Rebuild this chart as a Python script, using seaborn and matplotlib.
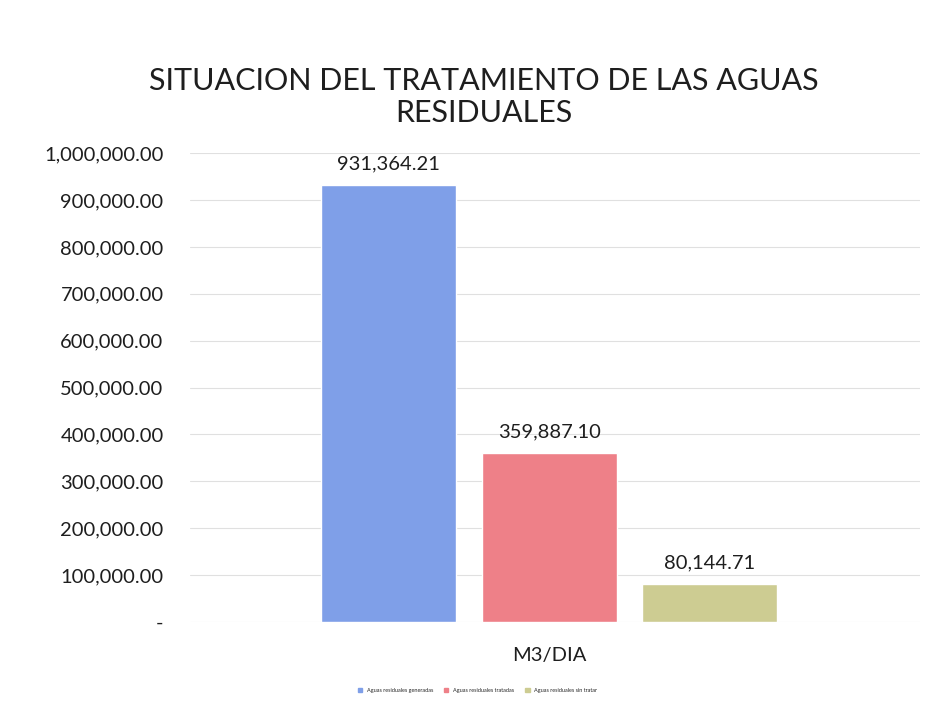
import pandas as pd
import matplotlib.pyplot as plt
import seaborn as sns
from matplotlib.ticker import FuncFormatter

# Data
category = ["M3/DIA"]
series = ["Aguas residuales generadas", "Aguas residuales tratadas", "Aguas residuales sin tratar"]
values = [931364.21, 359887.10, 80144.71]
colors = ["#7f9fe8", "#ee8088", "#cdcc92"]

df = pd.DataFrame({"unidad": category * len(series), "serie": series, "valor": values})

sns.set_style("white")
plt.rcParams["font.family"] = ["Lato", "DejaVu Sans"]

fig = plt.figure(figsize=(9.36, 7.19), dpi=100)
ax = fig.add_axes([0.203, 0.135, 0.78, 0.652])

sns.barplot(
    data=df, x="unidad", y="valor", hue="serie", saturation=1,
    palette=colors, width=0.66, gap=0.16, ax=ax, legend=False,
)

for cont in ax.containers:
    ax.bar_label(cont, fmt="{:,.2f}", padding=9, fontsize=14.5, color="#1e1e1e")

ax.set_ylim(0, 1000000)
ax.set_xlim(-0.492, 0.508)
ax.set_yticks(range(0, 1000001, 100000))
ax.yaxis.set_major_formatter(FuncFormatter(lambda v, p: "-" if v == 0 else f"{v:,.2f}"))
ax.tick_params(axis="y", labelsize=14.5, length=0, pad=19, labelcolor="#1e1e1e")
ax.tick_params(axis="x", labelsize=14.5, length=0, pad=18, labelcolor="#1e1e1e")
ax.set_xlabel("")
ax.set_ylabel("")
ax.grid(axis="y", color="#e0e0e0", linewidth=0.8)
ax.set_axisbelow(True)
sns.despine(ax=ax, left=True, bottom=True, top=True, right=True)

fig.text(0.517, 0.865, "SITUACION DEL TRATAMIENTO DE LAS AGUAS\nRESIDUALES",
         ha="center", va="center", fontsize=22, color="#1e1e1e", linespacing=1.2)

# small legend at the bottom
handles = [plt.Rectangle((0, 0), 1, 1, color=c) for c in colors]
fig.legend(handles, series, loc="center", bbox_to_anchor=(0.51, 0.04), ncol=3,
           frameon=False, fontsize=4, handlelength=0.8, handleheight=0.6, columnspacing=2)

fig.savefig("out.png", dpi=100)
